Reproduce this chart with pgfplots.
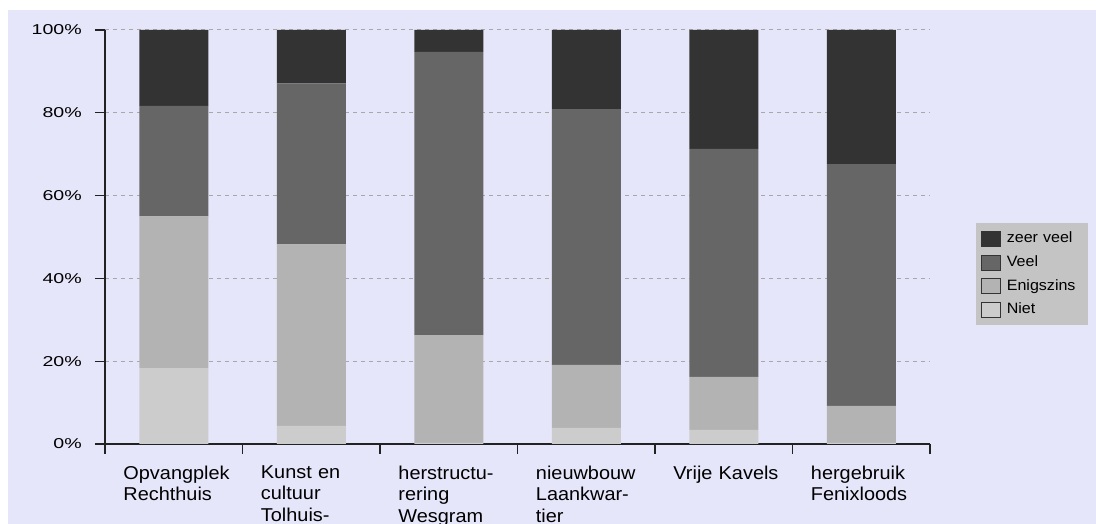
\documentclass[border=0pt]{standalone}
\usepackage{pgfplots}
\pgfplotsset{compat=1.18}
\usepackage{fontspec}
\setmainfont{Liberation Sans}
\newfontfamily\tickfont{Liberation Sans}[FakeStretch=1.37]
\newfontfamily\catfont{Liberation Sans}[FakeStretch=1.07]
\definecolor{lav}{HTML}{E6E6FA}
\definecolor{cNiet}{HTML}{CCCCCC}
\definecolor{cEnig}{HTML}{B3B3B3}
\definecolor{cVeel}{HTML}{666666}
\definecolor{cZeer}{HTML}{333333}
\definecolor{leggray}{HTML}{C4C4C4}
\definecolor{gridgray}{HTML}{A8A8A8}
\definecolor{axgray}{HTML}{222222}
\pgfplotsset{
  legsq/.style={legend image code/.code={\draw[##1, draw=black!80, line width=0.8pt] (0pt,-7.5pt) rectangle (18.7pt,7.5pt);}}
}
\begin{document}
\begin{tikzpicture}[x=1pt,y=1pt]
\useasboundingbox (0,0) rectangle (1096,524);
\fill[white] (0,0) rectangle (1096,524);
\fill[lav] (8,0) rectangle (1096,514);
\begin{axis}[
  at={(105pt,80pt)}, anchor=south west,
  scale only axis, width=825pt, height=414pt,
  xmin=0, xmax=6, ymin=0, ymax=100,
  ybar stacked, bar width=69pt,
  axis lines=left,
  axis line style={-, axgray, line width=1.1pt},
  every outer x axis line/.append style={-},
  every outer y axis line/.append style={-},
  tick align=outside,
  major tick length=10pt,
  tick style={axgray, line width=1.1pt},
  ytick={0,20,40,60,80,100},
  yticklabels={0\%,20\%,40\%,60\%,80\%,100\%},
  yticklabel style={font=\tickfont\fontsize{14.3}{16}\selectfont, anchor=east, inner sep=0pt, xshift=-13pt},
  ymajorgrids,
  major grid style={gridgray, line width=1pt, dash pattern=on 4pt off 4pt},
  xtick={0,1,2,3,4,5,6},
  xticklabels={,,,,,,},
  extra x ticks={0.5,1.5,2.5,3.5,4.5,5.5},
  extra x tick labels={{Opvangplek\\Rechthuis},{Kunst en\\cultuur\\Tolhuis-\\tuin},{herstructu-\\rering\\Wesgram},{nieuwbouw\\Laankwar-\\tier},{Vrije Kavels},{hergebruik\\Fenixloods}},
  extra x tick style={major tick length=0pt, xticklabel style={font=\catfont\fontsize{18.6}{21.5}\selectfont, text width=115pt, align=left, anchor=north west, inner sep=0pt, xshift=-50.5pt, yshift=-21.5pt}},
  reverse legend,
  legend cell align=left,
  legend style={at={(1.0558,0.5338)}, anchor=north west, draw=none, fill=leggray,
    inner xsep=4.7pt, inner ysep=7.8pt, row sep=7.8pt, column sep=6.4pt,
    font=\catfont\fontsize{15}{18}\selectfont,
    nodes={inner sep=0pt, text height=11pt, text depth=3pt, text width=76pt, align=left}},
]
\addplot[fill=cNiet, draw=none, legsq] coordinates {(0.5,18.3) (1.5,4.4) (2.5,0.3) (3.5,3.9) (4.5,3.4) (5.5,0.3)};
\addplot[fill=cEnig, draw=none, legsq] coordinates {(0.5,36.7) (1.5,43.8) (2.5,26.0) (3.5,15.2) (4.5,12.8) (5.5,8.9)};
\addplot[fill=cVeel, draw=none, legsq] coordinates {(0.5,26.7) (1.5,38.9) (2.5,68.4) (3.5,61.8) (4.5,55.1) (5.5,58.4)};
\addplot[fill=cZeer, draw=none, legsq] coordinates {(0.5,18.3) (1.5,12.9) (2.5,5.3) (3.5,19.1) (4.5,28.7) (5.5,32.4)};
\legend{Niet,Enigszins,Veel,zeer veel}
\end{axis}
\end{tikzpicture}
\end{document}
